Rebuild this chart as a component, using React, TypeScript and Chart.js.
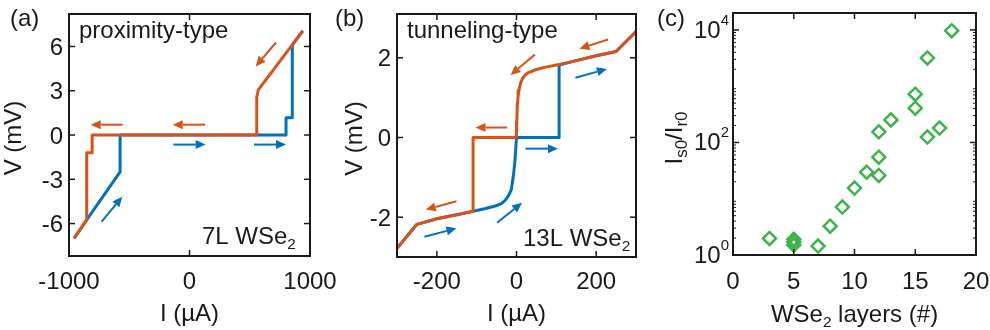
import React, { useEffect, useRef } from "react";
import { Chart, registerables } from "chart.js";
Chart.register(...registerables);

const FONT = '"Liberation Sans", Arial, sans-serif';
const INK = "#1a1a1a";
const ORANGE = "#D95319";
const BLUE = "#0072BD";
const GREEN = "#3CB44A";

// ---------- Panel (a): proximity-type, 7L WSe2 ----------
const aXTicks = [-1000, 0, 1000];
const aYTicks = [-6, -3, 0, 3, 6];
const aOrange: [number, number][] = [
  [940, 7.05], [571, 3.06], [558, 2.56], [558, 0], [-808, 0], [-808, -1.2],
  [-853, -1.2], [-853, -5.75], [-958, -7.0],
];
const aBlue: [number, number][] = [
  [-958, -7.0], [-853, -5.75], [-576, -2.5], [-576, 0], [801, 0], [801, 1.17],
  [853, 1.17], [853, 6.1], [940, 7.05],
];
const aArrowsOrange = [
  [-554, 0.7, -820, 0.7], [129, 0.7, -139, 0.7], [718, 6.27, 549, 4.65],
];
const aArrowsBlue = [
  [-134, -0.65, 134, -0.65], [535, -0.65, 801, -0.65], [-729, -5.87, -558, -4.18],
];

// ---------- Panel (b): tunneling-type, 13L WSe2 ----------
const bXTicks = [-200, 0, 200];
const bYTicks = [-2, 0, 2];
const bOrange: [number, number][] = [
  [300, 2.66], [250, 2.16], [200, 2.05], [150, 1.93], [106, 1.83], [70, 1.76],
  [48, 1.7], [30, 1.63], [22, 1.57], [15, 1.48], [10, 1.36], [6, 1.18], [4, 1.03],
  [2.5, 0.85], [1.6, 0.69], [0.8, 0.4], [0, 0], [-109, 0], [-109, -1.85],
  [-150, -1.94], [-200, -2.04], [-250, -2.18], [-300, -2.78],
];
const bBlue: [number, number][] = [
  [-300, -2.78], [-250, -2.18], [-200, -2.04], [-150, -1.94], [-109, -1.85],
  [-80, -1.79], [-53, -1.72], [-38, -1.66], [-28, -1.57], [-20, -1.46],
  [-13, -1.31], [-7, -0.89], [-4, -0.6], [-2.6, -0.39], [0, 0], [107, 0],
  [107, 1.82], [150, 1.93], [200, 2.05], [250, 2.16], [300, 2.66],
];
const bArrowsOrange = [
  [230, 2.46, 158, 2.23], [46, 2.08, -15, 1.57], [-23.5, 0.25, -103, 0.25],
  [-150.6, -1.6, -228, -1.81],
];
const bArrowsBlue = [
  [148, 1.5, 227, 1.72], [22.6, -0.28, 104, -0.28], [-48.7, -2.14, 14, -1.64],
  [-231, -2.49, -150.6, -2.28],
];

// ---------- Panel (c): Is0/Ir0 vs layers ----------
const cLayers = [3, 5, 5, 5, 7, 8, 9, 10, 11, 12, 12, 12, 13, 15, 15, 16, 16, 17, 18];
const cRatio = [
  1.97, 1.9, 1.7, 1.5, 1.44, 3.25, 7.1, 15.5, 29.6, 54.7, 25.9, 155, 252, 720,
  407, 3180, 125, 180, 9700,
];
const cXTicks = [0, 5, 10, 15, 20];
const cYTicks = [1, 100, 10000];
const cYTickExp = ["0", "2", "4"];

type Seg = [string, number?]; // 0 normal, 1 subscript, 2 superscript

function drawRich(
  ctx: CanvasRenderingContext2D,
  segs: Seg[],
  x: number,
  y: number,
  size: number,
  align: "left" | "center" | "right" = "left",
  small = size * 0.64,
  subDy = size * 0.2,
  supDy = -size * 0.5
) {
  let w = 0;
  const parts = segs.map(([t, k = 0]) => {
    const fs = k ? small : size;
    ctx.font = `${fs}px ${FONT}`;
    const mw = ctx.measureText(t).width;
    w += mw;
    return { t, k, fs, mw };
  });
  let cx = align === "left" ? x : align === "center" ? x - w / 2 : x - w;
  ctx.textAlign = "left";
  ctx.textBaseline = "alphabetic";
  for (const p of parts) {
    ctx.font = `${p.fs}px ${FONT}`;
    const dy = p.k === 1 ? subDy : p.k === 2 ? supDy : 0;
    ctx.fillText(p.t, cx, y + dy);
    cx += p.mw;
  }
}

function seg(ctx: CanvasRenderingContext2D, x1: number, y1: number, x2: number, y2: number) {
  ctx.beginPath();
  ctx.moveTo(x1, y1);
  ctx.lineTo(x2, y2);
  ctx.stroke();
}

function drawFrame(chart: any, xTicks: number[], yTicks: number[], yMinor: number[] = []) {
  const { ctx, chartArea: a, scales } = chart;
  const x = scales.x, y = scales.y;
  const TL = 6, TM = 3;
  ctx.save();
  ctx.strokeStyle = INK;
  ctx.lineWidth = 1.5;
  for (const v of xTicks) {
    const p = x.getPixelForValue(v);
    seg(ctx, p, a.bottom, p, a.bottom - TL);
    seg(ctx, p, a.top, p, a.top + TL);
  }
  for (const v of yTicks) {
    const p = y.getPixelForValue(v);
    seg(ctx, a.left, p, a.left + TL, p);
    seg(ctx, a.right, p, a.right - TL, p);
  }
  ctx.lineWidth = 1;
  for (const v of yMinor) {
    const p = y.getPixelForValue(v);
    seg(ctx, a.left, p, a.left + TM, p);
    seg(ctx, a.right, p, a.right - TM, p);
  }
  ctx.lineWidth = 2;
  ctx.strokeRect(a.left, a.top, a.right - a.left, a.bottom - a.top);
  ctx.restore();
}

function drawArrow(ctx: CanvasRenderingContext2D, x1: number, y1: number, x2: number, y2: number, color: string) {
  const ang = Math.atan2(y2 - y1, x2 - x1);
  const HL = 10, HW = 4.5;
  const bx = x2 - HL * Math.cos(ang), by = y2 - HL * Math.sin(ang);
  ctx.strokeStyle = color;
  ctx.fillStyle = color;
  ctx.lineWidth = 2;
  seg(ctx, x1, y1, bx, by);
  ctx.beginPath();
  ctx.moveTo(x2, y2);
  ctx.lineTo(bx + HW * Math.sin(ang), by - HW * Math.cos(ang));
  ctx.lineTo(bx - HW * Math.sin(ang), by + HW * Math.cos(ang));
  ctx.closePath();
  ctx.fill();
}

function arrowsPlugin(groups: [number[][], string][]) {
  return {
    id: "arrows",
    afterDatasetsDraw(chart: any) {
      const { ctx, scales } = chart;
      ctx.save();
      for (const [list, color] of groups) {
        for (const [a, b, c, d] of list) {
          drawArrow(
            ctx,
            scales.x.getPixelForValue(a), scales.y.getPixelForValue(b),
            scales.x.getPixelForValue(c), scales.y.getPixelForValue(d),
            color
          );
        }
      }
      ctx.restore();
    },
  };
}

function lineSet(data: [number, number][], color: string) {
  return {
    data: data.map(([x, y]) => ({ x, y })),
    borderColor: color,
    backgroundColor: color,
    borderWidth: 3,
    pointRadius: 0,
    showLine: true,
    tension: 0,
    borderJoinStyle: "round" as const,
  };
}

function baseOptions(padding: any, xr: [number, number], yr: [number, number], ylog = false) {
  return {
    animation: false as const,
    responsive: false,
    maintainAspectRatio: false,
    layout: { padding },
    plugins: { legend: { display: false }, tooltip: { enabled: false } },
    events: [],
    scales: {
      x: { type: "linear" as const, display: false, min: xr[0], max: xr[1] },
      y: { type: (ylog ? "logarithmic" : "linear") as any, display: false, min: yr[0], max: yr[1] },
    },
  };
}

function ivLabels(
  chart: any,
  xTicks: number[],
  yTicks: number[],
  panel: string,
  panelX: number,
  kind: string,
  sample: string,
  sampleX: number,
  sampleY: number,
  yTitleX: number
) {
  const { ctx, chartArea: a, scales } = chart;
  ctx.save();
  ctx.fillStyle = INK;
  ctx.font = `24px ${FONT}`;
  ctx.textAlign = "center";
  ctx.textBaseline = "alphabetic";
  for (const v of xTicks) {
    ctx.fillText(String(v), scales.x.getPixelForValue(v), 289);
  }
  ctx.textAlign = "right";
  for (const v of yTicks) {
    ctx.fillText(String(v), a.left - 6, scales.y.getPixelForValue(v) + 8.5);
  }
  ctx.textAlign = "center";
  ctx.fillText("I (µA)", (a.left + a.right) / 2, 321);
  ctx.save();
  ctx.translate(yTitleX, (a.top + a.bottom) / 2 + 3);
  ctx.rotate(-Math.PI / 2);
  ctx.fillText("V (mV)", 0, 0);
  ctx.restore();
  ctx.textAlign = "left";
  ctx.fillText(panel, panelX, 26);
  ctx.fillText(kind, a.left + 10, 37.5);
  drawRich(ctx, [[sample], ["2", 1]], sampleX, sampleY, 24);
  ctx.restore();
}

function makeA(canvas: HTMLCanvasElement) {
  return new Chart(canvas, {
    type: "scatter",
    data: { datasets: [lineSet(aOrange, ORANGE), lineSet(aBlue, BLUE)] as any },
    options: baseOptions({ left: 69, right: 40, top: 14, bottom: 74 }, [-1000, 1000], [-8.2, 8.2]) as any,
    plugins: [
      arrowsPlugin([[aArrowsOrange, ORANGE], [aArrowsBlue, BLUE]]),
      {
        id: "frameA",
        afterDraw(chart: any) {
          drawFrame(chart, aXTicks, aYTicks);
          ivLabels(chart, aXTicks, aYTicks, "(a)", 10, "proximity-type", "7L WSe", 202, 244, 20.5);
        },
      },
    ],
  });
}

function makeB(canvas: HTMLCanvasElement) {
  return new Chart(canvas, {
    type: "scatter",
    data: { datasets: [lineSet(bOrange, ORANGE), lineSet(bBlue, BLUE)] as any },
    options: baseOptions({ left: 67, right: 24, top: 14, bottom: 73 }, [-300, 300], [-3, 3.1]) as any,
    plugins: [
      arrowsPlugin([[bArrowsOrange, ORANGE], [bArrowsBlue, BLUE]]),
      {
        id: "frameB",
        afterDraw(chart: any) {
          drawFrame(chart, bXTicks, bYTicks);
          ivLabels(chart, bXTicks, bYTicks, "(b)", 5, "tunneling-type", "13L WSe", 193, 246, 32);
        },
      },
    ],
  });
}

function makeC(canvas: HTMLCanvasElement) {
  const minor: number[] = [];
  for (let k = 0; k <= 4; k++) for (let m = 2; m <= 9; m++) if (m * 10 ** k <= 20000) minor.push(m * 10 ** k);
  return new Chart(canvas, {
    type: "scatter",
    data: {
      datasets: [
        {
          data: cLayers.map((x, i) => ({ x, y: cRatio[i] })),
          pointStyle: "rectRot",
          pointRadius: 6.5,
          borderWidth: 2.5,
          borderColor: GREEN,
          backgroundColor: "rgba(0,0,0,0)",
          clip: false,
        },
      ] as any,
    },
    options: baseOptions({ left: 93, right: 14, top: 13, bottom: 75 }, [0, 20], [1, 20000], true) as any,
    plugins: [
      {
        id: "frameC",
        afterDraw(chart: any) {
          const { ctx, chartArea: a, scales } = chart;
          drawFrame(chart, cXTicks, cYTicks, minor);
          ctx.save();
          ctx.fillStyle = INK;
          ctx.font = `24px ${FONT}`;
          ctx.textAlign = "center";
          ctx.textBaseline = "alphabetic";
          for (const v of cXTicks) ctx.fillText(String(v), scales.x.getPixelForValue(v), 289);
          cYTicks.forEach((v, i) => {
            const p = scales.y.getPixelForValue(v);
            drawRich(ctx, [["10"], [cYTickExp[i], 2]], a.left - 4, p + 8, 24, "right", 15, 0, -13);
          });
          drawRich(ctx, [["WSe"], ["2", 1], [" layers (#)"]], (a.left + a.right) / 2, 322, 24, "center");
          ctx.save();
          ctx.translate(42, (a.top + a.bottom) / 2 + 4);
          ctx.rotate(-Math.PI / 2);
          drawRich(ctx, [["I"], ["s0", 1], ["/I"], ["r0", 1]], 0, 0, 24, "center", 17, 5);
          ctx.restore();
          ctx.textAlign = "left";
          ctx.font = `24px ${FONT}`;
          ctx.fillText("(c)", 17, 26);
          ctx.restore();
        },
      },
    ],
  });
}

export default function App() {
  const ra = useRef<HTMLCanvasElement>(null);
  const rb = useRef<HTMLCanvasElement>(null);
  const rc = useRef<HTMLCanvasElement>(null);
  useEffect(() => {
    const charts = [makeA(ra.current!), makeB(rb.current!), makeC(rc.current!)];
    return () => charts.forEach((c) => c.destroy());
  }, []);
  const cs = (left: number, w: number): React.CSSProperties => ({
    position: "absolute", left, top: 0, width: w, height: 330,
  });
  return (
    <div style={{ position: "fixed", left: 0, top: 0, width: 990, height: 330, background: "#fff" }}>
      <canvas ref={ra} width={350} height={330} style={cs(0, 350)} />
      <canvas ref={rb} width={330} height={330} style={cs(330, 330)} />
      <canvas ref={rc} width={350} height={330} style={cs(640, 350)} />
    </div>
  );
}
